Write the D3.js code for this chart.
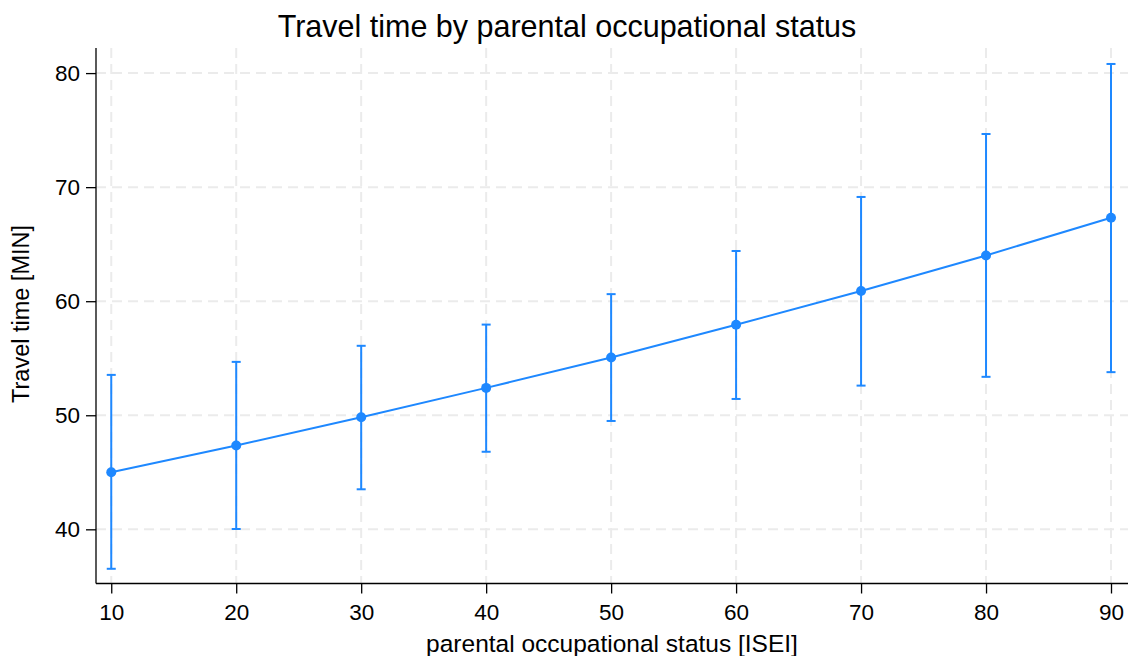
<!DOCTYPE html>
<html>
<head>
<meta charset="utf-8">
<script src="https://cdn.jsdelivr.net/npm/d3@7"></script>
<style>
  html, body { margin: 0; padding: 0; background: #fff; }
  svg { display: block; font-family: "Liberation Sans", Arial, sans-serif; }
</style>
</head>
<body>
<svg id="chart" width="1130" height="656"></svg>
<script>
// Predicted travel time (minutes) with 95% CI by parental ISEI
const isei = [10, 20, 30, 40, 50, 60, 70, 80, 90];
const travelTime = [45.0, 47.35, 49.83, 52.4, 55.06, 57.93, 60.89, 64.01, 67.32];
const ciLower = [36.54, 40.03, 43.51, 46.8, 49.5, 51.43, 52.6, 53.37, 53.78];
const ciUpper = [53.54, 54.68, 56.09, 57.95, 60.62, 64.4, 69.14, 74.66, 80.8];
const xTicks = [10, 20, 30, 40, 50, 60, 70, 80, 90];
const yTicks = [40, 50, 60, 70, 80];

const titleText = "Travel time by parental occupational status";
const xTitle = "parental occupational status [ISEI]";
const yTitle = "Travel time [MIN]";

const blue = "#1E88FF";
const svg = d3.select("#chart");
const plotLeft = 96, plotRight = 1128, plotTop = 48, plotBottom = 583.5;

const x = d3.scaleLinear().domain([8.78, 91.36]).range([plotLeft, plotRight]);
const y = d3.scaleLinear().domain([35.25, 82.2]).range([plotBottom, plotTop]);

// Grid
const grid = svg.append("g").attr("stroke", "#ebebeb").attr("stroke-width", 2)
  .attr("stroke-dasharray", "10,6");
grid.selectAll("line.gy").data(yTicks).join("line")
  .attr("x1", plotLeft).attr("x2", plotRight)
  .attr("y1", d => y(d)).attr("y2", d => y(d));
grid.selectAll("line.gx").data(xTicks).join("line")
  .attr("x1", d => x(d)).attr("x2", d => x(d))
  .attr("y1", plotTop).attr("y2", plotBottom);

// Axes
const xAxis = svg.append("g").attr("transform", `translate(0,${plotBottom})`)
  .call(d3.axisBottom(x).tickValues(xTicks).tickSize(10).tickPadding(11).tickSizeOuter(0));
const yAxis = svg.append("g").attr("transform", `translate(${plotLeft},0)`)
  .call(d3.axisLeft(y).tickValues(yTicks).tickSize(10).tickPadding(6).tickSizeOuter(0));
[xAxis, yAxis].forEach(a => {
  a.attr("font-size", 22.5).attr("font-family", "'Liberation Sans', Arial, sans-serif");
  a.select(".domain").attr("stroke", "#000").attr("stroke-width", 1.3);
  a.selectAll(".tick line").attr("stroke", "#000").attr("stroke-width", 1.3);
  a.selectAll(".tick text").attr("fill", "#000");
});
xAxis.select(".domain").attr("d", `M${plotLeft},0H${plotRight}`);
yAxis.select(".domain").attr("d", `M0,${plotBottom}V${plotTop}`);

// Error bars
const rows = isei.map((v, i) => ({ x: v, y: travelTime[i], lo: ciLower[i], hi: ciUpper[i] }));
const eb = svg.append("g").attr("stroke", blue).attr("stroke-width", 2);
eb.selectAll("line.v").data(rows).join("line")
  .attr("x1", d => x(d.x)).attr("x2", d => x(d.x))
  .attr("y1", d => y(d.lo)).attr("y2", d => y(d.hi));
eb.selectAll("line.hi").data(rows).join("line")
  .attr("x1", d => x(d.x) - 4.5).attr("x2", d => x(d.x) + 4.5)
  .attr("y1", d => y(d.hi)).attr("y2", d => y(d.hi));
eb.selectAll("line.lo").data(rows).join("line")
  .attr("x1", d => x(d.x) - 4.5).attr("x2", d => x(d.x) + 4.5)
  .attr("y1", d => y(d.lo)).attr("y2", d => y(d.lo));

// Line and markers
svg.append("path").datum(rows)
  .attr("fill", "none").attr("stroke", blue).attr("stroke-width", 2)
  .attr("d", d3.line().x(d => x(d.x)).y(d => y(d.y)));
svg.append("g").selectAll("circle").data(rows).join("circle")
  .attr("cx", d => x(d.x)).attr("cy", d => y(d.y)).attr("r", 5)
  .attr("fill", blue);

// Titles
svg.append("text").attr("x", 567).attr("y", 37).attr("text-anchor", "middle")
  .attr("font-size", 30.5).attr("fill", "#000").text(titleText);
svg.append("text").attr("x", 612).attr("y", 651.5).attr("text-anchor", "middle")
  .attr("font-size", 24.5).attr("fill", "#000").text(xTitle);
svg.append("text").attr("transform", "translate(28.5,314) rotate(-90)")
  .attr("text-anchor", "middle").attr("font-size", 23.5).attr("fill", "#000").text(yTitle);
</script>
</body>
</html>
